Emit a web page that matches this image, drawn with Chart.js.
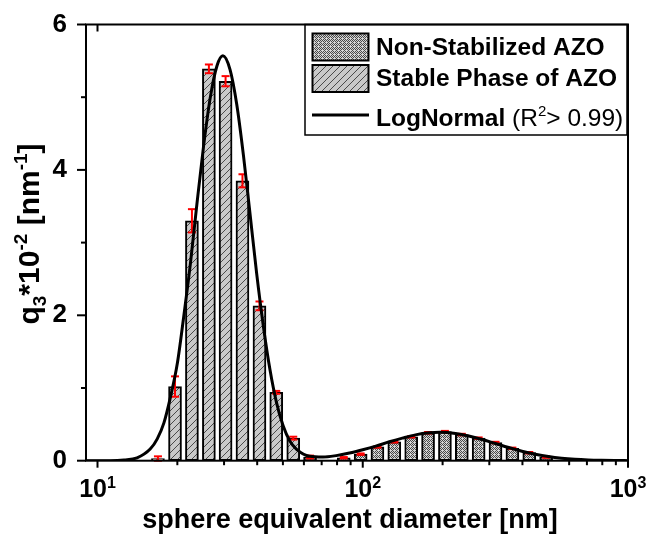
<!DOCTYPE html>
<html>
<head>
<meta charset="utf-8">
<script src="https://cdn.jsdelivr.net/npm/chart.js@4.4.0/dist/chart.umd.min.js"></script>
<style>
  html, body { margin: 0; padding: 0; background: #fff; }
  #wrap { width: 646px; height: 538px; position: relative; }
</style>
</head>
<body>
<div id="wrap"><canvas id="chart"></canvas></div>
<script>
// Stable phase of AZO (hatched bars) - diameter [nm], q3*10^-2, error
const stableDiam = [16.9, 19.6, 22.7, 26.3, 30.4, 35.2, 40.8, 47.2, 54.7, 63.3];
const stableQ3   = [0.03, 1.02, 3.30, 5.39, 5.22, 3.85, 2.13, 0.94, 0.31, 0.05];
const stableErr  = [0.03, 0.14, 0.16, 0.06, 0.07, 0.09, 0.06, 0.02, 0.02, 0.02];

// Non-stabilized AZO (cross-hatched bars)
const nonStabDiam = [84.8, 98.2, 113.6, 131.5, 152.3, 176.3, 204.1, 236.3, 273.5, 316.6, 366.6, 424.4, 491.3];
const nonStabQ3   = [0.04, 0.09, 0.19, 0.26, 0.33, 0.385, 0.40, 0.36, 0.31, 0.25, 0.17, 0.11, 0.05];
const nonStabErr  = [0.01, 0.01, 0.01, 0.01, 0.01, 0.01, 0.01, 0.01, 0.01, 0.01, 0.01, 0.01, 0.01];

// LogNormal fit
const fitDiam = [9.05, 10, 11.2, 12.6, 14.1, 15.8, 16.8, 17.8, 18.8, 20.0, 21.1, 22.4, 23.7, 25.1, 26.6, 28.2,
  29.7, 31.6, 33.5, 35.5, 37.6, 39.8, 42.2, 44.7, 47.3, 50.1, 53.1, 56.2, 63.1, 70.8, 79.4, 89.1, 100, 112, 126,
  141, 158, 178, 195, 224, 251, 282, 316, 355, 398, 447, 501, 562, 631, 708, 794, 891, 1000];
const fitQ3 = [0, 0.00, 0.00, 0.01, 0.04, 0.16, 0.30, 0.52, 0.86, 1.34, 1.96, 2.71, 3.53, 4.32, 4.99, 5.43,
  5.57, 5.38, 4.90, 4.20, 3.39, 2.58, 1.85, 1.25, 0.80, 0.48, 0.27, 0.16, 0.06, 0.05, 0.07, 0.105, 0.15, 0.20, 0.26,
  0.31, 0.355, 0.383, 0.39, 0.374, 0.34, 0.292, 0.237, 0.181, 0.131, 0.090, 0.058, 0.035, 0.020, 0.011, 0.006, 0.003, 0.001];

// Axis ticks
const xTicks = [10, 20, 30, 40, 50, 60, 70, 80, 90, 100, 200, 300, 400, 500, 600, 700, 800, 900, 1000];
const xMajor = {10: '1', 100: '2', 1000: '3'};   // exponent of the decade label 10^n
const yTicks = [0, 1, 2, 3, 4, 5, 6];

const FONT = "'Liberation Sans', Arial, sans-serif";

// Fill patterns
function makeHatch() {
  const c = document.createElement('canvas');
  c.width = 7; c.height = 7;
  const g = c.getContext('2d');
  g.fillStyle = '#c9c9c9';
  g.fillRect(0, 0, 7, 7);
  g.strokeStyle = '#4a4a4a';
  g.lineWidth = 1;
  g.beginPath();
  g.moveTo(-1, 8); g.lineTo(8, -1);
  g.moveTo(-1, 1); g.lineTo(1, -1);
  g.moveTo(6, 8); g.lineTo(8, 6);
  g.stroke();
  return g.createPattern(c, 'repeat');
}

function makeCross() {
  const c = document.createElement('canvas');
  c.width = 4; c.height = 4;
  const g = c.getContext('2d');
  g.fillStyle = '#d4d4d4';
  g.fillRect(0, 0, 4, 4);
  g.fillStyle = '#4a4a4a';
  g.fillRect(0, 0, 1, 1); g.fillRect(2, 0, 1, 1);
  g.fillRect(1, 1, 1, 1); g.fillRect(3, 1, 1, 1);
  g.fillRect(0, 2, 1, 1);
  g.fillRect(3, 3, 1, 1); g.fillRect(1, 3, 1, 1);
  return g.createPattern(c, 'repeat');
}

const hatch = makeHatch();
const cross = makeCross();

// Draw text made of pieces (normal / superscript / subscript)
function richWidth(ctx, parts) {
  let w = 0;
  parts.forEach(p => { ctx.font = p.font; w += ctx.measureText(p.t).width; });
  return w;
}
function drawRich(ctx, parts, x, y) {
  parts.forEach(p => {
    ctx.font = p.font;
    ctx.fillText(p.t, x, y + (p.dy || 0));
    x += ctx.measureText(p.t).width;
  });
}

function line(ctx, x1, y1, x2, y2) {
  ctx.beginPath();
  ctx.moveTo(x1, y1);
  ctx.lineTo(x2, y2);
  ctx.stroke();
}

// Red error bars on top of the histogram bars
const errorBars = {
  id: 'errorBars',
  afterDatasetDraw(chart, args) {
    if (args.index !== 1) return;
    const ctx = chart.ctx, xs = chart.scales.x, ys = chart.scales.y;
    ctx.save();
    ctx.strokeStyle = '#ff0000';
    ctx.lineWidth = 2;
    const draw = (diam, q, err) => {
      diam.forEach((d, i) => {
        const px = xs.getPixelForValue(d);
        const top = ys.getPixelForValue(q[i] + err[i]);
        const bot = ys.getPixelForValue(q[i] - err[i]);
        line(ctx, px, top, px, bot);
        line(ctx, px - 4, top, px + 4, top);
        line(ctx, px - 4, bot, px + 4, bot);
      });
    };
    draw(stableDiam, stableQ3, stableErr);
    draw(nonStabDiam, nonStabQ3, nonStabErr);
    ctx.restore();
  }
};

// Frame, tick marks, decade labels, axis titles and legend
const decor = {
  id: 'decor',
  afterDraw(chart) {
    const ctx = chart.ctx, xs = chart.scales.x, ys = chart.scales.y, a = chart.chartArea;
    ctx.save();
    ctx.strokeStyle = '#000';
    ctx.fillStyle = '#000';
    ctx.lineWidth = 2;

    // x ticks (bottom outward, top inward for decades) and 10^n labels
    const lb = 'bold 25px ' + FONT, ls = 'bold 16px ' + FONT;
    xs.ticks.forEach(t => {
      const px = xs.getPixelForValue(t.value);
      const exp = xMajor[t.value];
      line(ctx, px, a.bottom, px, a.bottom + (exp ? 7 : 4.5));
      if (exp) {
        line(ctx, px, a.top, px, a.top + 7);
        const parts = [{t: '10', font: lb}, {t: exp, font: ls, dy: -9}];
        const w = richWidth(ctx, parts);
        ctx.textAlign = 'left';
        drawRich(ctx, parts, px - w / 2, 497);
      }
    });
    // y ticks (left outward)
    ys.ticks.forEach(t => {
      const py = ys.getPixelForValue(t.value);
      const major = t.value % 2 === 0;
      line(ctx, a.left, py, a.left - (major ? 9 : 5), py);
    });

    // legend box
    const lx = 305, ly = a.top, lw = 322, lh = 110.5;
    ctx.fillStyle = '#fff';
    ctx.fillRect(lx, ly, lw, lh);
    ctx.lineWidth = 1.5;
    ctx.strokeRect(lx, ly, lw, lh);
    ctx.lineWidth = 2;
    ctx.fillStyle = cross;
    ctx.fillRect(312.5, 33.5, 56, 27);
    ctx.strokeRect(312.5, 33.5, 56, 27);
    ctx.fillStyle = hatch;
    ctx.fillRect(312.5, 65, 56, 27);
    ctx.strokeRect(312.5, 65, 56, 27);
    ctx.lineWidth = 3;
    line(ctx, 312, 115, 369, 115);

    ctx.fillStyle = '#000';
    ctx.textBaseline = 'alphabetic';
    ctx.textAlign = 'left';
    const bold = 'bold 24.5px ' + FONT;
    const norm = '24.5px ' + FONT;
    const sup = '15px ' + FONT;
    drawRich(ctx, [{t: 'Non-Stabilized AZO', font: bold}], 376, 55);
    drawRich(ctx, [{t: 'Stable Phase of AZO', font: bold}], 376, 86);
    drawRich(ctx, [
      {t: 'LogNormal', font: bold},
      {t: ' (R', font: norm},
      {t: '2', font: sup, dy: -10},
      {t: '> 0.99)', font: norm}
    ], 376, 125.5);

    // frame
    ctx.lineWidth = 2;
    ctx.strokeRect(a.left, a.top, a.right - a.left, a.bottom - a.top);

    // x title
    ctx.font = 'bold 27px ' + FONT;
    ctx.textAlign = 'center';
    ctx.fillText('sphere equivalent diameter [nm]', 350, 528);

    // y title (rotated)
    const yb = 'bold 30px ' + FONT, ys2 = 'bold 19px ' + FONT;
    const parts = [
      {t: 'q', font: yb},
      {t: '3', font: ys2, dy: 7},
      {t: '*10', font: yb},
      {t: '-2', font: ys2, dy: -12},
      {t: ' [nm', font: yb},
      {t: '-1', font: ys2, dy: -12},
      {t: ']', font: yb}
    ];
    ctx.textAlign = 'left';
    const w = richWidth(ctx, parts);
    ctx.translate(39, 234);
    ctx.rotate(-Math.PI / 2);
    drawRich(ctx, parts, -w / 2, 0);
    ctx.restore();
  }
};

new Chart(document.getElementById('chart'), {
  type: 'bar',
  data: {
    datasets: [
      {
        type: 'line',
        label: 'LogNormal',
        data: fitDiam.map((d, i) => ({x: d, y: fitQ3[i]})),
        borderColor: '#000',
        borderWidth: 3,
        pointRadius: 0,
        fill: false,
        cubicInterpolationMode: 'monotone'
      },
      {
        type: 'bar',
        label: 'Stable Phase of AZO',
        data: stableDiam.map((d, i) => ({x: d, y: stableQ3[i]})),
        backgroundColor: hatch,
        borderColor: '#000',
        borderWidth: 2,
        borderSkipped: false,
        barThickness: 13,
        grouped: false
      },
      {
        type: 'bar',
        label: 'Non-Stabilized AZO',
        data: nonStabDiam.map((d, i) => ({x: d, y: nonStabQ3[i]})),
        backgroundColor: cross,
        borderColor: '#000',
        borderWidth: 2,
        borderSkipped: false,
        barThickness: 13,
        grouped: false
      }
    ]
  },
  options: {
    responsive: true,
    maintainAspectRatio: false,
    animation: false,
    layout: { padding: { top: 24.5, right: 18, left: 0, bottom: 0 } },
    plugins: {
      legend: { display: false },
      tooltip: { enabled: false }
    },
    scales: {
      x: {
        type: 'logarithmic',
        min: 9.05,
        max: 1000,
        offset: false,
        grid: { display: false, drawTicks: false },
        border: { display: false },
        afterBuildTicks: s => { s.ticks = xTicks.map(v => ({value: v})); },
        afterFit: s => {
          s.height = 77.3;
          s.paddingLeft = 0; s.paddingRight = 0;
        },
        ticks: { display: false, autoSkip: false, maxRotation: 0 }
      },
      y: {
        type: 'linear',
        min: 0,
        max: 6,
        grid: { display: false, drawTicks: false },
        border: { display: false },
        afterBuildTicks: s => { s.ticks = yTicks.map(v => ({value: v})); },
        afterFit: s => {
          s.width = 86;
          s.paddingTop = 0; s.paddingBottom = 0;
        },
        ticks: {
          padding: 19,
          color: '#000',
          font: { family: FONT, size: 26, weight: 'bold' },
          callback: v => (v % 2 === 0 ? String(v) : '')
        }
      }
    }
  },
  plugins: [errorBars, decor]
});
</script>
</body>
</html>
